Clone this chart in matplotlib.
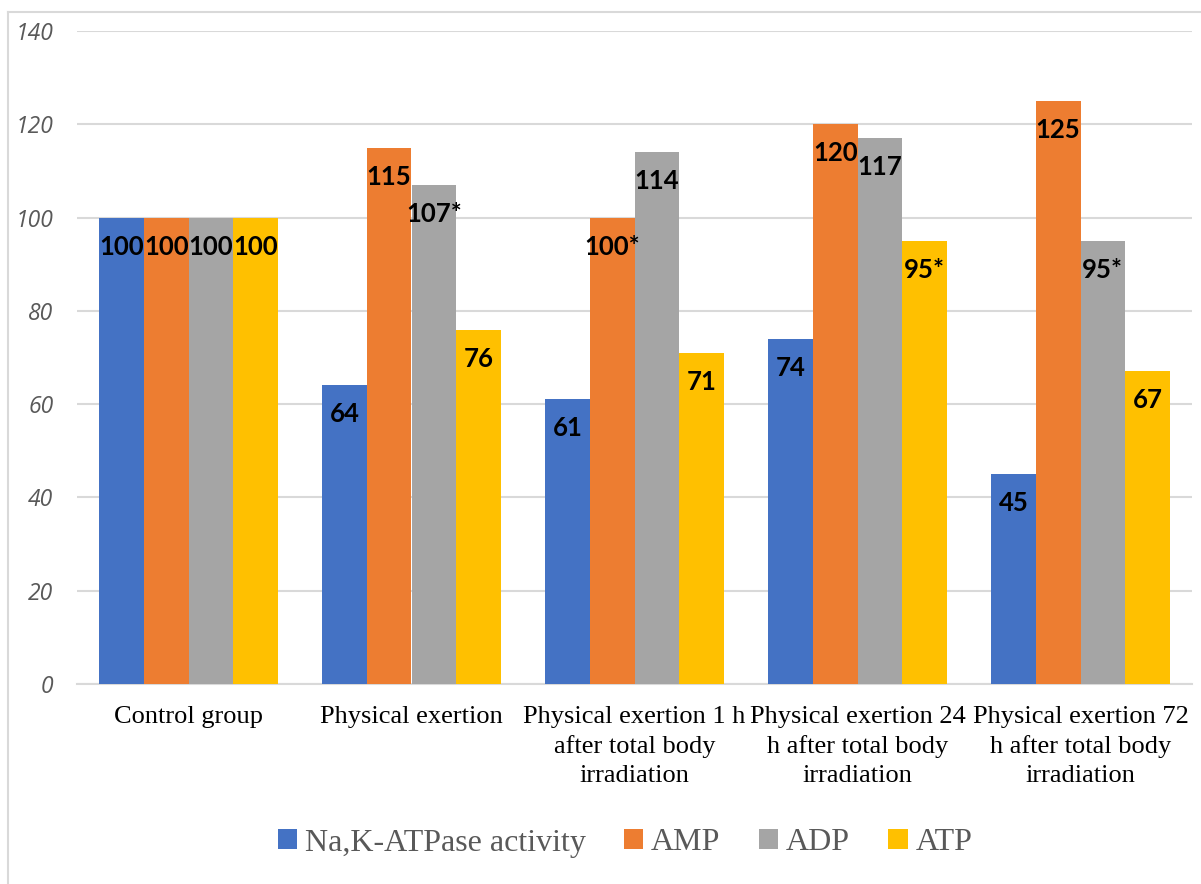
import numpy as np
import matplotlib.pyplot as plt
from matplotlib.lines import Line2D

# 数据
groups = ['Control group',
          'Physical exertion',
          'Physical exertion 1 h\nafter total body\nirradiation',
          'Physical exertion 24\nh after total body\nirradiation',
          'Physical exertion 72\nh after total body\nirradiation']
series = ['Na,K-ATPase activity', 'AMP', 'ADP', 'ATP']
na_k_atpase = [100, 64, 61, 74, 45]
amp = [100, 115, 100, 120, 125]
adp = [100, 107, 114, 117, 95]
atp = [100, 76, 71, 95, 67]
# 标注里带星号的位置
na_k_marks = ['', '', '', '', '']
amp_marks = ['', '', '*', '', '']
adp_marks = ['', '*', '', '', '*']
atp_marks = ['', '', '', '*', '']

colors = ['#4472C4', '#ED7D31', '#A5A5A5', '#FFC000']
values = [na_k_atpase, amp, adp, atp]
marks = [na_k_marks, amp_marks, adp_marks, atp_marks]

fig = plt.figure(figsize=(12.01, 8.84), dpi=100)
W, H = 1201, 884
ax = fig.add_axes([77 / W, 1 - 684 / H, (1192 - 77) / W, (684 - 31) / H])

x = np.arange(len(groups))
bw = 0.2
for i in range(4):
    pos = x + (i - 1.5) * bw
    ax.bar(pos, values[i], bw, color=colors[i], label=series[i], zorder=3)
    for px, v, m in zip(pos, values[i], marks[i]):
        ax.annotate(f'{v}{m}', (px, v), xytext=(0, -29), textcoords='offset pixels',
                    ha='center', va='center', fontsize=18.5, fontweight='bold',
                    family=['Lato', 'DejaVu Sans'], color='black', zorder=4)

ax.set_xlim(-0.5, len(groups) - 0.5)
ax.set_ylim(0, 140)
ax.set_yticks(np.arange(0, 141, 20))
ax.yaxis.grid(True, color='#D9D9D9', lw=1.5, zorder=0)
ax.set_axisbelow(True)
for s in ['top', 'right', 'left']:
    ax.spines[s].set_visible(False)
ax.spines['bottom'].set_color('#D9D9D9')
ax.spines['bottom'].set_linewidth(1.5)
ax.tick_params(axis='both', length=0)
ax.tick_params(axis='y', pad=17)
ax.tick_params(axis='x', pad=16)
ax.set_xticks(x)
ax.set_xticklabels(groups, family='Liberation Serif', fontsize=19, color='black',
                   linespacing=1.4)
for t in ax.get_yticklabels():
    t.set_family(['Open Sans', 'DejaVu Sans'])
    t.set_style('italic')
    t.set_fontsize(16.5)
    t.set_color('#595959')

leg = fig.legend(loc='center', bbox_to_anchor=(625 / W, 1 - 843 / H), ncol=4,
                 frameon=False, handlelength=0.6, handleheight=0.6,
                 handletextpad=0.25, columnspacing=1.2,
                 prop={'family': 'Liberation Serif', 'size': 23})
for t in leg.get_texts():
    t.set_color('#595959')

# 外框
fig.add_artist(Line2D([8 / W, 8 / W], [0, 1 - 12 / H], color='#D9D9D9', lw=1.5))
fig.add_artist(Line2D([8 / W, 1], [1 - 12 / H, 1 - 12 / H], color='#D9D9D9', lw=1.5))

fig.savefig('out.png', dpi=100)
